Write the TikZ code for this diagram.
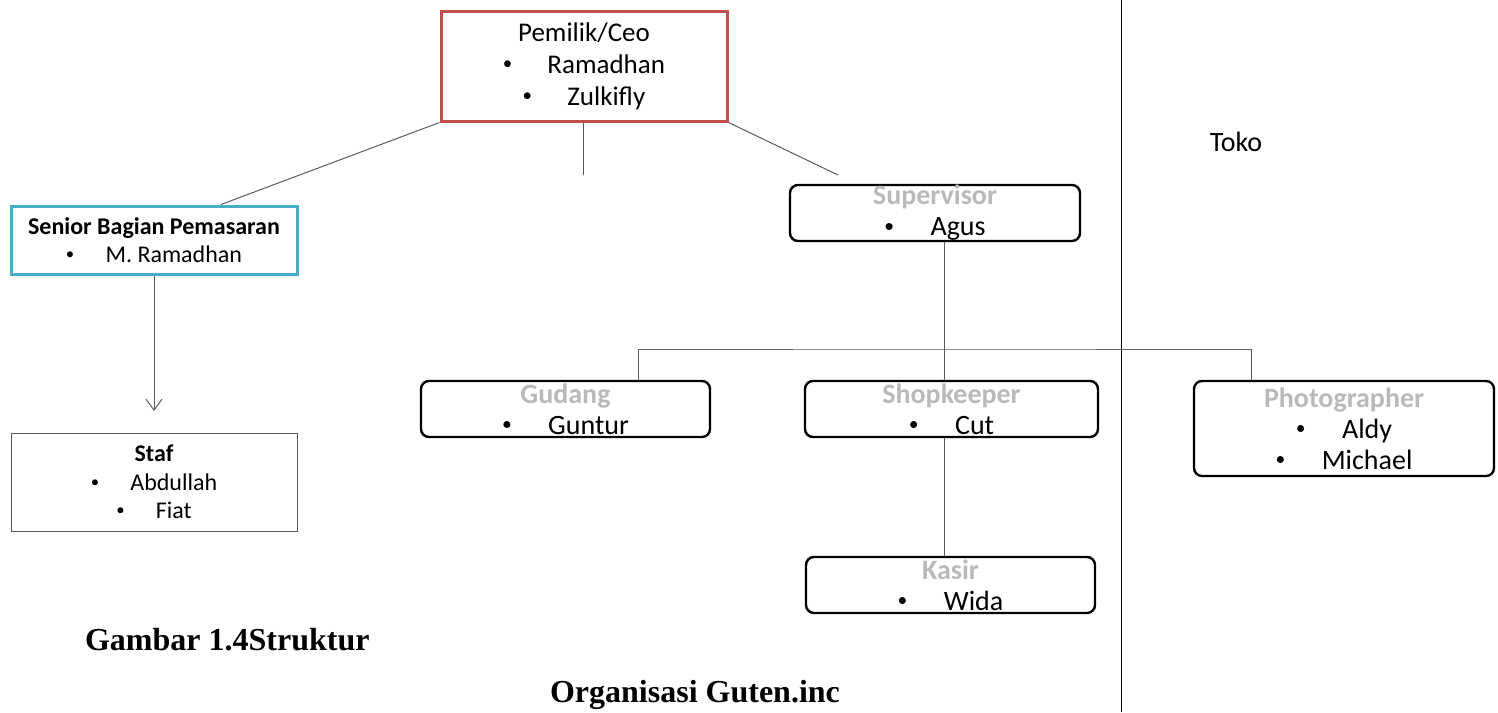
\documentclass[tikz,border=0pt]{standalone}
\usepackage{fontspec}
\setmainfont{Carlito}
\newfontfamily\capfont{Liberation Serif}
\usepackage{xcolor}
\usepackage{graphicx}
\usetikzlibrary{arrows.meta}
\definecolor{ceored}{HTML}{C0504D}
\definecolor{mktblue}{HTML}{4BACC6}
\definecolor{linegray}{HTML}{5A5A5A}

\tikzset{
  ceobox/.style={draw=ceored,line width=1.5pt,minimum width=143pt,minimum height=55pt,inner sep=0pt,align=center,font=\fontsize{13.5}{16}\selectfont},
  mktbox/.style={draw=mktblue,line width=1.5pt,minimum width=143pt,minimum height=34pt,inner sep=0pt,align=center,font=\fontsize{12}{14}\selectfont},
  stafbox/.style={draw=linegray,line width=0.5pt,minimum width=143pt,minimum height=49pt,inner sep=0pt,align=center,font=\fontsize{12}{14.2}\selectfont},
  unitbox/.style={draw,rounded corners=4pt,line width=1.2pt,minimum height=28pt,inner sep=0pt,align=center,font=\fontsize{14}{15.5}\selectfont},
  link/.style={draw=linegray,line width=0.5pt},
  caption/.style={font=\capfont\bfseries\fontsize{16}{19}\selectfont}
}
\newcommand{\itm}[1]{\raisebox{0.12em}{\scalebox{0.7}{\textbullet}}\hspace{1.3em}#1}
\newcommand{\unithead}[1]{\textcolor{gray!55}{\textbf{#1}}}

\begin{document}
\begin{tikzpicture}[x=0.5pt,y=-0.5pt]
\useasboundingbox (0,0) rectangle (1498,712);

\node[ceobox] at (584,66) (ceo) {Pemilik/Ceo\\\itm{Ramadhan}\\\itm{Zulkifly}};
\node[mktbox] at (154,240) (mkt) {\textbf{Senior Bagian Pemasaran}\\\itm{M. Ramadhan}};
\node[stafbox] at (154,482) (staf) {\textbf{Staf}\\\itm{Abdullah}\\\itm{Fiat}};

\node[unitbox,minimum width=145pt] at (935,213) (sup) {\unithead{Supervisor}\\\itm{Agus}};
\node[unitbox,minimum width=144.5pt] at (565.5,409) (gud) {\unithead{Gudang}\\\itm{Guntur}};
\node[unitbox,minimum width=146.5pt] at (951.5,409) (shop) {\unithead{Shopkeeper}\\\itm{Cut}};
\node[unitbox,minimum width=144.5pt] at (950.5,585) (kasir) {\unithead{Kasir}\\\itm{Wida}};
\node[unitbox,minimum width=150pt,minimum height=47.5pt] at (1344,428.5) (pho) {\unithead{Photographer}\\\itm{Aldy}\\\itm{Michael}};

\node[font=\fontsize{14}{16}\selectfont] at (1236,142) (toko) {Toko};
\node[caption,anchor=west] at (78,640) (cap1) {Gambar 1.4Struktur};
\node[caption] at (695,695) (cap2) {Organisasi Guten.inc};

% free ends and bends
\coordinate (ceostub) at (583,175);
\coordinate (ceoright) at (838,175);
\coordinate (mktarrow) at (154,411);
\coordinate (hub) at (944,349);
\coordinate (xgud) at (638,0);
\coordinate (xpho) at (1251,0);
\coordinate (septop) at (1121,0);
\coordinate (sepbot) at (1121,712);

\draw[link] (ceo.south west) -- (mkt.north -| 221,0);
\draw[link] (ceo.south -| ceostub) -- (ceostub);
\draw[link] (ceo.south east) -- (ceoright);
\draw[link,-{Straight Barb[length=5.5pt,width=8pt]}] (mkt.south) -- (mktarrow);

\draw[link] (sup.south -| hub) -- (shop.north -| hub);
\draw[link] (gud.north -| xgud) |- (hub) -| (pho.north -| xpho);
\draw[link] (shop.south -| hub) -- (kasir.north -| hub);

\draw[black,line width=0.5pt] (septop) -- (sepbot);
\end{tikzpicture}
\end{document}
